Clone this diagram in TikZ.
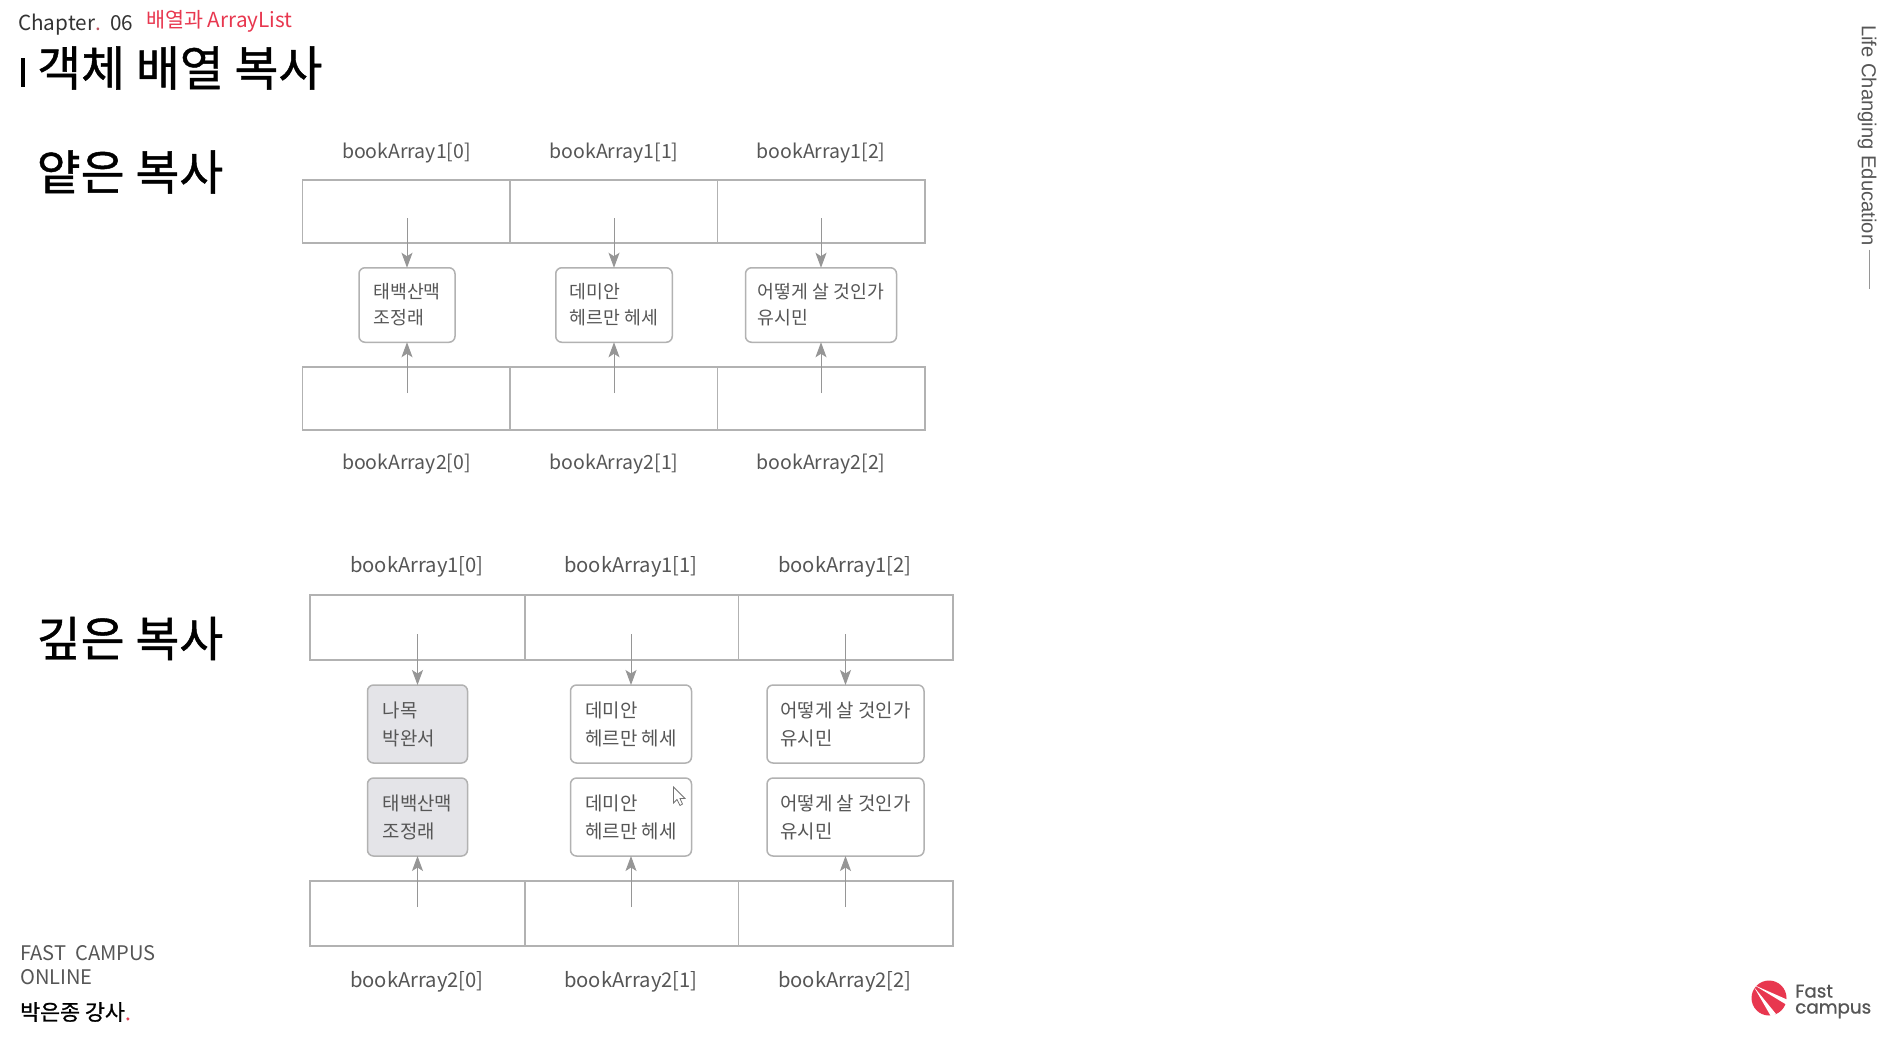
\documentclass[tikz,border=0pt]{standalone}
\usepackage{fontspec}
\setmainfont{Noto Sans CJK KR}
\newfontfamily\headfont[RawFeature={embolden=0.9}]{Noto Sans CJK KR}
\newfontfamily\arialfont{Liberation Sans}
\newfontfamily\logofont[RawFeature={embolden=0.8}]{Poppins}
\usetikzlibrary{arrows.meta}
\definecolor{linegray}{HTML}{B2B2B2}
\definecolor{arrowgray}{HTML}{969696}
\definecolor{textgray}{HTML}{565656}
\definecolor{boxgray}{HTML}{E4E4E8}
\definecolor{fastred}{HTML}{E8374F}
\tikzset{
	arraycell/.style={draw=linegray, line width=1.3pt, inner sep=0pt, outer sep=0pt},
	bookbox/.style={draw=linegray, line width=1.5pt, rounded corners=6pt, inner sep=0pt, outer sep=0pt, align=left, text=textgray, font=\fontsize{18.3}{26}\selectfont},
	deepbox/.style={bookbox, font=\fontsize{18.9}{28}\selectfont},
	shadebox/.style={deepbox, fill=boxgray},
	indexlabel/.style={text=textgray, inner sep=0pt, font=\fontsize{19.5}{22}\selectfont},
	deeplabel/.style={indexlabel, font=\fontsize{20.2}{22}\selectfont},
	heading/.style={anchor=west, inner sep=0pt, font=\fontsize{47.8}{50}\selectfont\headfont},
	footlabel/.style={anchor=west, inner sep=0pt, text=textgray, font=\fontsize{20.1}{22}\selectfont},
	arrowline/.style={draw=arrowgray, line width=1pt, -{Stealth[length=15pt, width=11pt, inset=3.5pt]}}
}

\begin{document}
\begin{tikzpicture}[x=1pt, y=-1pt]

	\useasboundingbox[fill=white] (0,0) rectangle (1881,1037);

	% header
	\node[footlabel, text=black!80, font=\fontsize{20.7}{22}\selectfont] (chapter) at (18,25) {Chapter\textcolor{fastred!60!gray}{.}\ \ 06};
	\node[anchor=west, inner sep=0pt, text=fastred, font=\fontsize{20.7}{22}\selectfont] (subject) at (146,21) {배열과 ArrayList};
	\fill[black] (20.5,58) rectangle (25,87);
	\node[heading] (title) at (37,68) {객체 배열 복사};
	\node[heading] (shallow) at (36.5,172) {얕은 복사};
	\node[heading] (deep) at (36.5,638.5) {깊은 복사};

	% shallow copy
	\node[arraycell, minimum width=207.6pt, minimum height=63pt] (sa0) at (406.2,211.5) {};
	\node[arraycell, minimum width=207.5pt, minimum height=63pt] (sa1) at (613.75,211.5) {};
	\node[arraycell, minimum width=207.5pt, minimum height=63pt] (sa2) at (821.25,211.5) {};
	\node[arraycell, minimum width=207.6pt, minimum height=63pt] (sc0) at (406.2,398.5) {};
	\node[arraycell, minimum width=207.5pt, minimum height=63pt] (sc1) at (613.75,398.5) {};
	\node[arraycell, minimum width=207.5pt, minimum height=63pt] (sc2) at (821.25,398.5) {};

	\node[indexlabel] at (406.5,153) {bookArray1[0]};
	\node[indexlabel] at (614,153) {bookArray1[1]};
	\node[indexlabel] at (821,153) {bookArray1[2]};
	\node[indexlabel] at (406.5,464) {bookArray2[0]};
	\node[indexlabel] at (614,464) {bookArray2[1]};
	\node[indexlabel] at (821,464) {bookArray2[2]};

	\node[bookbox, minimum width=96pt, minimum height=74.5pt] (sb0) at (407,305) {태백산맥\\조정래};
	\node[bookbox, minimum width=116.5pt, minimum height=74.5pt] (sb1) at (614,305) {데미안\\헤르만 헤세};
	\node[bookbox, minimum width=151pt, minimum height=74.5pt] (sb2) at (821,305) {어떻게 살 것인가\\유시민};

	\coordinate (sa0s) at (407,218);
	\coordinate (sa1s) at (614,218);
	\coordinate (sa2s) at (821,218);
	\coordinate (sc0s) at (407,393);
	\coordinate (sc1s) at (614,393);
	\coordinate (sc2s) at (821,393);

	\draw[arrowline] (sa0s) -- (sb0.north);
	\draw[arrowline] (sa1s) -- (sb1.north);
	\draw[arrowline] (sa2s) -- (sb2.north);
	\draw[arrowline] (sc0s) -- (sb0.south);
	\draw[arrowline] (sc1s) -- (sb1.south);
	\draw[arrowline] (sc2s) -- (sb2.south);

	% deep copy
	\node[arraycell, minimum width=215pt, minimum height=65pt] (da0) at (417.5,627.5) {};
	\node[arraycell, minimum width=213.5pt, minimum height=65pt] (da1) at (631.75,627.5) {};
	\node[arraycell, minimum width=214.5pt, minimum height=65pt] (da2) at (845.75,627.5) {};
	\node[arraycell, minimum width=215pt, minimum height=65pt] (dc0) at (417.5,913.5) {};
	\node[arraycell, minimum width=213.5pt, minimum height=65pt] (dc1) at (631.75,913.5) {};
	\node[arraycell, minimum width=214.5pt, minimum height=65pt] (dc2) at (845.75,913.5) {};

	\node[deeplabel] at (417,567) {bookArray1[0]};
	\node[deeplabel] at (631,567) {bookArray1[1]};
	\node[deeplabel] at (845,567) {bookArray1[2]};
	\node[deeplabel] at (417,982) {bookArray2[0]};
	\node[deeplabel] at (631,982) {bookArray2[1]};
	\node[deeplabel] at (845,982) {bookArray2[2]};

	\node[shadebox, minimum width=100pt, minimum height=78pt] (db0) at (417.5,724) {나목\hphantom{산맥}\\박완서};
	\node[deepbox, minimum width=121pt, minimum height=78pt] (db1) at (631,724) {데미안\\헤르만 헤세};
	\node[deepbox, minimum width=157pt, minimum height=78pt] (db2) at (845.5,724) {어떻게 살 것인가\\유시민};
	\node[shadebox, minimum width=100pt, minimum height=78pt] (dd0) at (417.5,817) {태백산맥\\조정래};
	\node[deepbox, minimum width=121pt, minimum height=78pt] (dd1) at (631,817) {데미안\\헤르만 헤세};
	\node[deepbox, minimum width=157pt, minimum height=78pt] (dd2) at (845.5,817) {어떻게 살 것인가\\유시민};

	\coordinate (da0s) at (417.5,634);
	\coordinate (da1s) at (631,634);
	\coordinate (da2s) at (845.5,634);
	\coordinate (dc0s) at (417.5,907);
	\coordinate (dc1s) at (631,907);
	\coordinate (dc2s) at (845.5,907);

	\draw[arrowline] (da0s) -- (db0.north);
	\draw[arrowline] (da1s) -- (db1.north);
	\draw[arrowline] (da2s) -- (db2.north);
	\draw[arrowline] (dc0s) -- (dd0.south);
	\draw[arrowline] (dc1s) -- (dd1.south);
	\draw[arrowline] (dc2s) -- (dd2.south);

	% mouse pointer
	\draw[fill=white, draw=black!55, line width=0.8pt] (673.5,787) -- (673.5,803) -- (677,799.5) -- (680,805.5) -- (682.5,804) -- (680,798.5) -- (685,798.5) -- cycle;

	% footer
	\node[footlabel] (campus) at (20,953) {FAST\ \ CAMPUS};
	\node[footlabel] (online) at (20,977) {ONLINE};
	\node[footlabel, text=black, font=\fontsize{21.7}{22}\selectfont\headfont] (teacher) at (20,1012) {박은종 강사\textcolor{fastred}{.}};

	% side text
	\node[rotate=-90, anchor=west, inner sep=0pt, text=textgray, font=\fontsize{20.2}{22}\selectfont\arialfont] (motto) at (1867,25) {Life Changing Education};
	\coordinate (mottoend) at (1869,289);
	\draw[arrowgray, line width=1pt] (motto.east -| mottoend) ++(0,4) -- (mottoend);

	% logo
	\fill[fastred] (1769,998) circle (17.5);
	\fill[white] (1754,985) -- (1788,1000) -- (1787,1005) -- cycle;
	\fill[white] (1754,987) -- (1776,1014) -- (1771,1016.5) -- cycle;
	\node[anchor=west, inner sep=0pt, align=left, text=textgray, font=\fontsize{18.3}{16}\selectfont\logofont] (fast) at (1795,1001.5) {Fast\\campus};

\end{tikzpicture}
\end{document}
